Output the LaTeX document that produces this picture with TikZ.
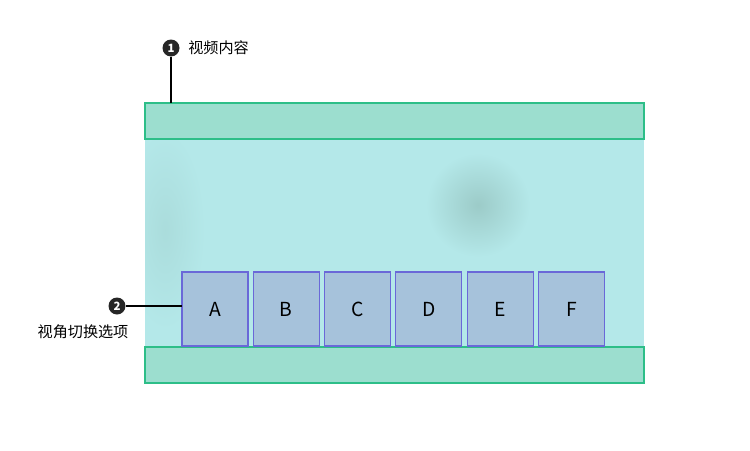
\documentclass[tikz,border=0pt]{standalone}
\usepackage{fontspec}
\setmainfont{Noto Sans CJK SC}
\usepackage{tikz}
\usetikzlibrary{positioning}
\usepackage{xcolor}
\definecolor{videobg}{HTML}{B4E8E9}
\definecolor{barfill}{HTML}{9CDECF}
\definecolor{barline}{HTML}{2DBE88}
\definecolor{camfill}{HTML}{A6C2DB}
\definecolor{camline}{HTML}{6A68D8}
\definecolor{shadow}{HTML}{9CCBC8}
\tikzset{
  bar/.style={fill=barfill, draw=barline, line width=0.6pt},
  cambox/.style={fill=camfill, draw=camline, line width=0.6pt, font=\fontsize{11}{12}\selectfont},
  badge/.style={circle, fill=black!85, text=white, inner sep=0pt, minimum size=0.34cm, font=\fontsize{6.5}{6.5}\selectfont\bfseries},
  tag/.style={font=\fontsize{8.6}{9}\selectfont, inner sep=0pt}
}

\begin{document}
\begin{tikzpicture}[x=0.02cm, y=-0.02cm]
    \useasboundingbox[fill=white] (0,0) rectangle (750,450);
    % video area
    \fill[videobg] (145,103) rectangle (644,383);
    \begin{scope}
        \clip (145,103) rectangle (644,383);
        \shade[inner color=shadow, outer color=videobg] (478,205) circle (52);
        \shade[inner color=shadow!40!videobg, outer color=videobg] (165,230) ellipse (40 and 100);
    \end{scope}
    \filldraw[bar] (145,103) rectangle (644,139);
    \filldraw[bar] (145,347) rectangle (644,383);
    % camera options
    \foreach \c [count=\i from 0] in {A,B,C,D,E,F}
        \filldraw[cambox] (182+\i*71.3,272) rectangle +(66,74) node[midway] (cam\c) {\c};
    % callouts
    \node[badge] (one) at (171,48) {1};
    \node[tag, anchor=west] (onelabel) at (188,48) {视频内容};
    \coordinate (onefoot) at (171,103);
    \draw[line width=0.8pt] (one) -- (onefoot);
    \node[badge] (two) at (117,306) {2};
    \node[tag] (twolabel) at (83,332) {视角切换选项};
    \coordinate (twofoot) at (182,306);
    \draw[line width=0.8pt] (two) -- (twofoot);
  \end{tikzpicture}
\end{document}
